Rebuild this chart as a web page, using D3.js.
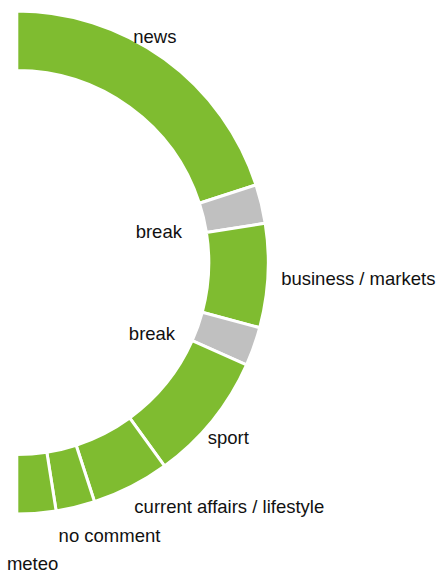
<!DOCTYPE html>
<html>
<head>
<meta charset="utf-8">
<script src="https://cdn.jsdelivr.net/npm/d3@7"></script>
<style>
  html, body { margin: 0; padding: 0; background: #ffffff; }
  svg { display: block; }
  text { font-family: "Liberation Sans", Arial, sans-serif; font-size: 18.5px; fill: #111111; }
</style>
</head>
<body>
<svg id="chart" width="438" height="572"></svg>
<script>
// ---- data (minutes of a half-hour programme schedule) ----
const segments = ["news", "break", "business / markets", "break", "sport", "current affairs / lifestyle", "no comment", "meteo"];
const minutes  = [12, 1.5, 4, 1.5, 5, 3, 1.5, 1.5];
const kinds    = ["programme", "break", "programme", "break", "programme", "programme", "programme", "programme"];

// ---- layout / style (not data) ----
const W = 438, H = 572;
const cx = 16.8, cy = 262.6;
const outerR = 251.5, innerR = 192;
const colour = d3.scaleOrdinal().domain(["programme", "break"]).range(["#7fbc30", "#c0c0c0"]);
// label anchor offsets from the centre (text-anchor middle, alphabetic baseline)
const labelOffsets = [[138, -219.3], [142, -24.3], [341.5, 22.4], [135.2, 77.4], [211.5, 181.4], [212.5, 250.1], [92.7, 279.1], [15.8, 307.4]];

const rows = segments.map((s, i) => ({ name: s, value: minutes[i], kind: kinds[i], i }));

const pie = d3.pie().value(d => d.value).sort(null).startAngle(0).endAngle(Math.PI);
const arc = d3.arc().innerRadius(innerR).outerRadius(outerR);

const svg = d3.select("#chart");
const g = svg.append("g").attr("transform", `translate(${cx},${cy})`);

g.selectAll("path.seg")
  .data(pie(rows))
  .join("path")
  .attr("class", "seg")
  .attr("d", arc)
  .attr("fill", d => colour(d.data.kind))
  .attr("stroke", "#ffffff")
  .attr("stroke-width", 3)
  .attr("stroke-linejoin", "miter");

g.selectAll("text.lbl")
  .data(rows)
  .join("text")
  .attr("class", "lbl")
  .attr("x", d => labelOffsets[d.i][0])
  .attr("y", d => labelOffsets[d.i][1])
  .attr("text-anchor", "middle")
  .text(d => d.name);
</script>
</body>
</html>
